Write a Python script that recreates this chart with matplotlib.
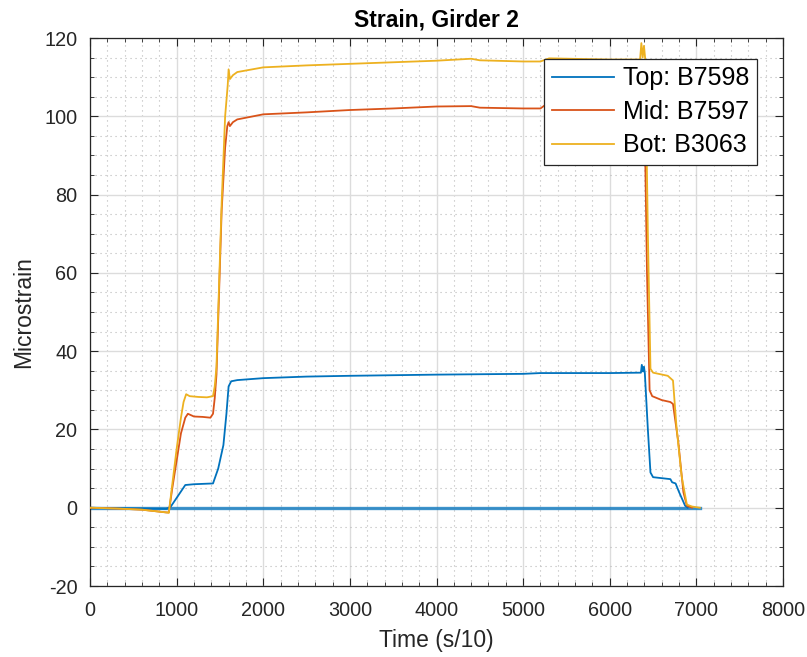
import matplotlib
matplotlib.use("Agg")
import matplotlib.pyplot as plt
from matplotlib.ticker import MultipleLocator

plt.rcParams['font.family'] = ['Liberation Sans', 'DejaVu Sans']
plt.rcParams['axes.unicode_minus'] = False

# ---- data ----
top_t = [0, 880, 930, 1000, 1100, 1200, 1420, 1480, 1540, 1575, 1600, 1630, 1700, 2000, 2500,
         3000, 4000, 5000, 5200, 6000, 6360, 6370, 6385, 6395, 6405, 6440, 6470, 6500, 6700,
         6720, 6760, 6800, 6870, 6900]
top_v = [0, -0.3, 0.2, 2.5, 5.8, 6.0, 6.2, 10, 16, 24, 31, 32.3, 32.6, 33.1, 33.5,
         33.7, 34.0, 34.2, 34.4, 34.4, 34.5, 36.5, 34.8, 36.0, 34.4, 20, 9, 7.8, 7.3,
         6.5, 6.2, 4.0, 0.5, 0]

mid_t = [0, 300, 600, 880, 910, 950, 1000, 1050, 1100, 1130, 1200, 1300, 1390, 1420, 1440,
         1460, 1520, 1560, 1585, 1600, 1615, 1650, 1700, 2000, 2500, 3000, 3500, 4000, 4400,
         4500, 5000, 5200, 5250, 6000, 6400, 6430, 6460, 6490, 6600, 6700, 6730, 6790, 6850,
         6890, 6950]
mid_v = [0, -0.2, -0.5, -1.2, -1.2, 5, 12, 19, 23, 24, 23.3, 23.2, 23, 24, 28,
         34, 76, 92, 97.5, 98.5, 97.5, 98.5, 99.2, 100.5, 101, 101.6, 102, 102.5, 102.6,
         102.2, 102, 102, 102.8, 103, 103, 60, 30, 28.5, 27.5, 27, 26.5, 17, 4,
         0.5, 0]

bot_t = [0, 300, 600, 880, 910, 950, 1000, 1050, 1080, 1110, 1150, 1250, 1350, 1420, 1440,
         1460, 1520, 1560, 1590, 1600, 1615, 1650, 1700, 2000, 2500, 3000, 3500, 4000, 4400,
         4500, 5000, 5200, 5300, 6000, 6350, 6365, 6380, 6395, 6410, 6440, 6470, 6500, 6670,
         6730, 6770, 6830, 6890, 6950, 7040]
bot_v = [0, -0.2, -0.5, -1.2, -1.3, 6, 15, 23, 27, 29, 28.5, 28.3, 28.2, 28.5, 31,
         36, 78, 100, 108, 112, 109.5, 110.5, 111.3, 112.5, 113, 113.4, 113.8, 114.2, 114.7,
         114.3, 114, 114, 114.8, 114.5, 114.5, 118.7, 115, 118, 114.5, 70, 35.5, 34.5, 33.7,
         32.5, 20.8, 8, 0.8, 0.3, 0]

zero_t = [0, 7040]
zero_v = [0, 0]

labels = ['Top: B7598', 'Mid: B7597', 'Bot: B3063']
colors = ['#0072BD', '#D95319', '#EDB120']
x_ticks = [0, 1000, 2000, 3000, 4000, 5000, 6000, 7000, 8000]
y_ticks = [-20, 0, 20, 40, 60, 80, 100, 120]

# ---- figure ----
fig = plt.figure(figsize=(8.07, 6.57), dpi=100)
ax = fig.add_axes([90/807, 1 - 586/657, (783-90)/807, (586-38)/657])

ax.plot(zero_t, zero_v, color=colors[0], lw=2.4, alpha=0.75, zorder=2)
ax.plot(top_t, top_v, color=colors[0], lw=1.3, label=labels[0], zorder=3)
ax.plot(mid_t, mid_v, color=colors[1], lw=1.3, label=labels[1], zorder=3)
ax.plot(bot_t, bot_v, color=colors[2], lw=1.3, label=labels[2], zorder=3)

ax.set_xlim(0, 8000)
ax.set_ylim(-20, 120)
ax.set_xticks(x_ticks)
ax.set_yticks(y_ticks)
ax.xaxis.set_minor_locator(MultipleLocator(200))
ax.yaxis.set_minor_locator(MultipleLocator(5))

ax.grid(True, which='major', color='#dcdcdc', lw=1.0)
ax.grid(True, which='minor', color='#b8b8b8', lw=0.8, linestyle=(0, (1, 3.5)))
ax.set_axisbelow(True)

ax.tick_params(which='both', direction='in', top=True, right=True, colors='#262626',
               labelsize=14.3, labelcolor='#262626')
ax.tick_params(which='major', length=6, width=0.8)
ax.tick_params(which='minor', length=3, width=0.6)
ax.tick_params(axis='x', pad=11)
ax.tick_params(axis='y', pad=9)
for s in ax.spines.values():
    s.set_color('#262626')
    s.set_linewidth(0.9)

ax.set_xlabel('Time (s/10)', fontsize=16.5, color='#262626', labelpad=6)
ax.set_ylabel('Microstrain', fontsize=16.5, color='#262626', labelpad=7)
ax.set_title('Strain, Girder 2', fontsize=16.5, fontweight='bold', color='#000000', pad=8)

leg = ax.legend(loc='upper right', bbox_to_anchor=(1 - 26/693, 1 - 21/548),
                borderaxespad=0, fontsize=18, frameon=True, fancybox=False,
                edgecolor='#262626', framealpha=1, handlelength=2.5, handletextpad=0.35,
                labelspacing=0.38, borderpad=0.3)
leg.get_frame().set_linewidth(0.9)

fig.savefig('out.png', dpi=100)
